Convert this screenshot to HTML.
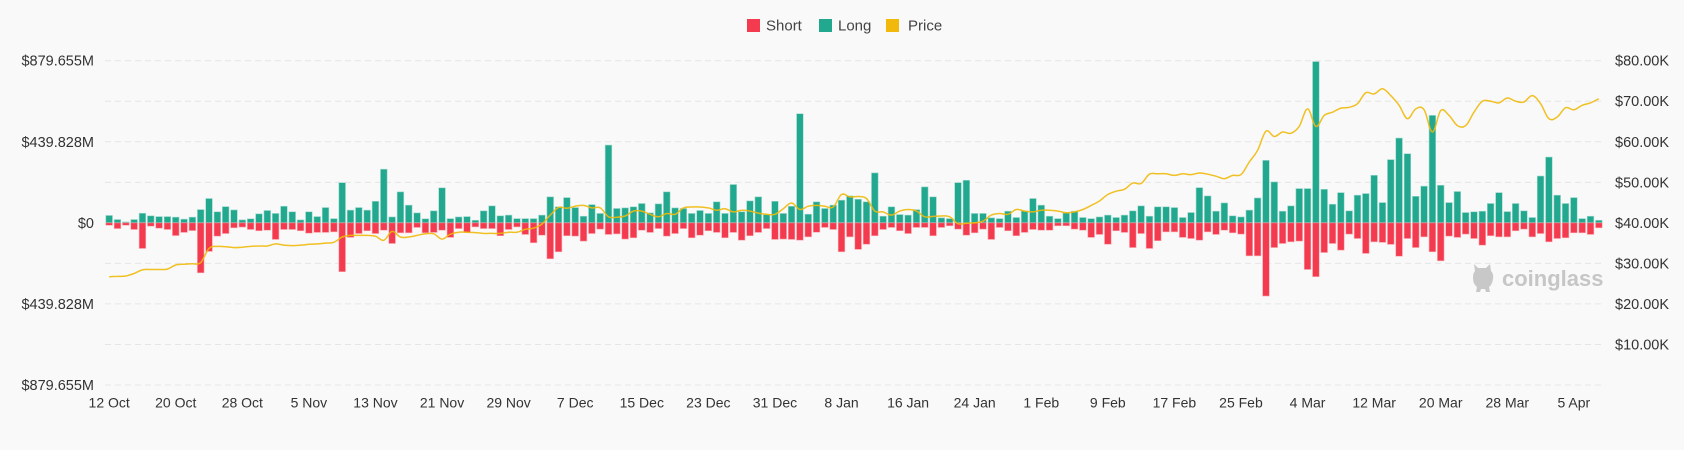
<!DOCTYPE html>
<html><head><meta charset="utf-8">
<style>
html,body{margin:0;padding:0;background:#f9f9f9;}
body{width:1684px;height:445px;overflow:hidden;font-family:"Liberation Sans","DejaVu Sans",sans-serif;}
svg text{font-family:"Liberation Sans","DejaVu Sans",sans-serif;}
</style></head>
<body>
<svg id="chart" width="1684" height="445" viewBox="0 0 1684 445" xmlns="http://www.w3.org/2000/svg">
  <rect width="1684" height="445" fill="#f9f9f9"/>
  <g>
    <g>
      <rect x="747" y="19" width="13" height="13" fill="#f43a4e"/>
      <text x="766" y="30.5" font-size="15" fill="#444">Short</text>
    </g>
    <g>
      <rect x="819" y="19" width="13" height="13" fill="#21a88f"/>
      <text x="838" y="30.5" font-size="15" fill="#444">Long</text>
    </g>
    <g>
      <rect x="886" y="19" width="13" height="13" fill="#f0b90b"/>
      <text x="908" y="30.5" font-size="15" fill="#444">Price</text>
    </g>
  </g>
  <g id="grid"></g>
  <g id="watermark">
    <path d="M1474 264 l4 4 h8 l4 -4 l1 7 q3 3 2 8 q-1 6 -4 8 l1 5 h-4 l-1 -3 h-4 l-1 3 h-4 l1 -5 q-4 -3 -4 -9 q0 -5 2 -7 z" fill="#c8c8c8"/>
    <text x="1502" y="286" font-size="22" font-weight="bold" fill="#c6c6c6">coinglass</text>
  </g>
  <g id="bars"></g>
  <g id="price"></g>
  <g id="yleft"></g>
  <g id="yright"></g>
  <g id="xaxis"></g>
</svg>
<script>
const longVals = [40,18,5,18,52,38,34,34,31,20,31,72,132,60,88,70,16,22,49,67,51,90,60,16,60,34,83,23,
218,69,83,69,117,291,32,168,96,54,22,65,190,23,32,34,14,65,92,38,42,23,23,23,42,141,87,137,
83,36,99,51,422,78,81,87,105,54,103,168,81,78,51,67,51,114,51,208,60,119,141,45,117,51,90,592,
47,114,78,96,123,146,128,114,271,36,87,45,42,72,195,141,27,23,218,231,51,51,27,23,
63,29,65,132,96,36,23,54,63,29,23,32,42,29,42,65,92,36,87,87,83,29,56,191,146,
63,108,38,32,69,135,339,222,63,92,186,186,875,182,101,164,65,150,159,258,110,343,460,
375,144,199,583,204,110,170,56,60,63,105,164,61,105,65,29,254,357,150,105,137,23,36,14];
const shortVals = [13,31,13,36,139,18,29,36,69,52,42,271,155,72,58,27,23,36,43,40,90,36,36,43,56,52,52,49,
265,79,58,43,58,40,112,54,54,25,54,52,40,79,31,52,22,31,31,70,36,22,63,108,67,195,157,70,
72,99,58,34,63,60,88,81,40,52,31,72,58,31,81,67,43,52,81,52,94,70,52,31,90,88,90,94,
76,51,25,36,157,76,144,116,70,36,25,43,58,25,25,70,25,16,34,67,54,34,90,25,
43,70,52,36,40,40,16,16,34,40,79,63,116,43,52,134,58,139,97,49,49,79,85,94,49,
63,40,54,61,179,179,397,134,112,103,99,253,292,161,112,148,61,85,166,103,106,117,181,
85,134,76,157,206,72,79,61,85,121,70,76,76,43,34,76,58,103,85,81,54,54,63,27];
const priceVals = [26.7,26.8,26.9,27.5,28.4,28.5,28.5,28.6,29.6,29.8,29.9,30.2,33.7,34.2,34.1,33.9,34.0,34.2,34.3,34.3,34.8,34.5,34.4,34.5,34.7,34.8,35.0,35.2,
36.5,36.9,36.9,36.9,36.7,35.7,37.9,36.5,36.5,36.9,37.3,37.3,36.0,37.2,37.7,37.7,37.6,37.4,37.4,37.4,37.7,37.7,38.4,38.7,39.7,41.9,43.8,43.6,
44.1,44.3,43.7,43.7,41.5,41.4,41.7,42.9,42.9,42.1,41.5,42.3,42.1,43.7,43.9,43.9,43.7,43.1,43.5,42.7,43.1,42.9,42.4,42.1,42.1,43.5,44.9,43.3,
44.1,44.3,44.1,43.9,47.0,46.4,46.5,46.0,42.9,42.7,41.9,42.9,43.3,42.9,41.5,41.6,41.7,41.5,39.8,39.9,40.0,40.4,41.9,42.3,
42.1,43.3,42.9,42.7,43.1,43.1,42.9,42.5,42.7,43.3,44.3,45.4,47.0,47.8,48.3,49.8,49.7,52.0,52.1,52.1,51.7,52.1,51.9,52.3,52.0,
51.5,50.9,51.7,51.9,55.0,57.9,62.6,61.3,62.4,62.1,63.8,68.1,63.8,66.5,67.3,68.3,68.5,69.4,72.1,71.8,73.1,71.4,69.0,
65.7,68.1,67.9,62.4,67.7,66.5,64.0,64.0,67.3,70.0,70.0,69.6,70.8,70.0,69.8,71.4,69.4,65.7,66.1,68.4,67.9,69.0,69.6,70.6];
const xLabels = ["12 Oct","20 Oct","28 Oct","5 Nov","13 Nov","21 Nov","29 Nov","7 Dec","15 Dec","23 Dec","31 Dec","8 Jan","16 Jan","24 Jan","1 Feb","9 Feb","17 Feb","25 Feb","4 Mar","12 Mar","20 Mar","28 Mar","5 Apr"];
const leftTickVals = [879.655,439.828,0,-439.828,-879.655];
const leftTickLabels = ["$879.655M","$439.828M","$0","$439.828M","$879.655M"];
const rightTickVals = [80,70,60,50,40,30,20,10];
const rightTickLabels = ["$80.00K","$70.00K","$60.00K","$50.00K","$40.00K","$30.00K","$20.00K","$10.00K"];

const NS = "http://www.w3.org/2000/svg";
const X0 = 105, X1 = 1603, TOP = 60.7, BOT = 385;
const N = longVals.length;
const step = (X1 - X0) / N;
const LMAX = 879.655, RMAX = 80;
function xC(i){ return X0 + step * (i + 0.5); }
function yL(v){ return TOP + (LMAX - v) / (2 * LMAX) * (BOT - TOP); }
function yR(p){ return BOT - p / RMAX * (BOT - TOP); }
function mk(tag, attrs, parent){ const e = document.createElementNS(NS, tag); for (const k in attrs) e.setAttribute(k, attrs[k]); parent.appendChild(e); return e; }

const grid = document.getElementById('grid');
for (let i = 0; i <= 8; i++) {
  const y = TOP + i * (BOT - TOP) / 8;
  const l = mk('line', {x1: X0, x2: X1, y1: y, y2: y, stroke: '#e6e6e6', 'stroke-width': 1, 'stroke-dasharray': '6,4'}, grid);
  
  
}

const bars = document.getElementById('bars');
const z = yL(0);
const bw = step * 0.8;
for (let i = 0; i < N; i++) {
  const yl = yL(longVals[i]);
  const rl = mk('rect', {x: xC(i) - bw/2, y: yl, width: bw, height: z - yl, fill: '#21a88f', stroke: '#9fd9cd', 'stroke-width': 0.6}, bars);
  
  
  const ys = yL(-shortVals[i]);
  const rs = mk('rect', {x: xC(i) - bw/2, y: z, width: bw, height: ys - z, fill: '#f43a4e', stroke: '#f9a9b1', 'stroke-width': 0.6}, bars);
  
  
}

const pg = document.getElementById('price');
const pts = priceVals.map((p, i) => [xC(i), yR(p)]);
let d = 'M' + pts[0][0].toFixed(1) + ' ' + pts[0][1].toFixed(1);
for (let i = 0; i < pts.length - 1; i++) {
  const p0 = pts[Math.max(0, i - 1)], p1 = pts[i], p2 = pts[i + 1], p3 = pts[Math.min(pts.length - 1, i + 2)];
  const t = 0.18;
  const c1x = p1[0] + (p2[0] - p0[0]) * t, c1y = p1[1] + (p2[1] - p0[1]) * t;
  const c2x = p2[0] - (p3[0] - p1[0]) * t, c2y = p2[1] - (p3[1] - p1[1]) * t;
  d += ' C' + c1x.toFixed(1) + ' ' + c1y.toFixed(1) + ' ' + c2x.toFixed(1) + ' ' + c2y.toFixed(1) + ' ' + p2[0].toFixed(1) + ' ' + p2[1].toFixed(1);
}
const pl = mk('path', {d: d, fill: 'none', stroke: '#f0b90b', 'stroke-width': 1.5, 'stroke-linejoin': 'round', opacity: 0.9}, pg);



const yl = document.getElementById('yleft');
for (let i = 0; i < leftTickVals.length; i++) {
  const t = mk('text', {x: 94, y: yL(leftTickVals[i]) + 5, 'text-anchor': 'end', 'font-size': 14.5, fill: '#333'}, yl);
  t.textContent = leftTickLabels[i];
  
  
}
const yr = document.getElementById('yright');
for (let i = 0; i < rightTickVals.length; i++) {
  const t = mk('text', {x: 1615, y: yR(rightTickVals[i]) + 5, 'text-anchor': 'start', 'font-size': 14.5, fill: '#333'}, yr);
  t.textContent = rightTickLabels[i];
  
  
}
const xa = document.getElementById('xaxis');
for (let i = 0; i < xLabels.length; i++) {
  const t = mk('text', {x: xC(i * 8), y: 407.5, 'text-anchor': 'middle', 'font-size': 14, fill: '#333'}, xa);
  t.textContent = xLabels[i];
  
  
}
</script>
</body></html>
